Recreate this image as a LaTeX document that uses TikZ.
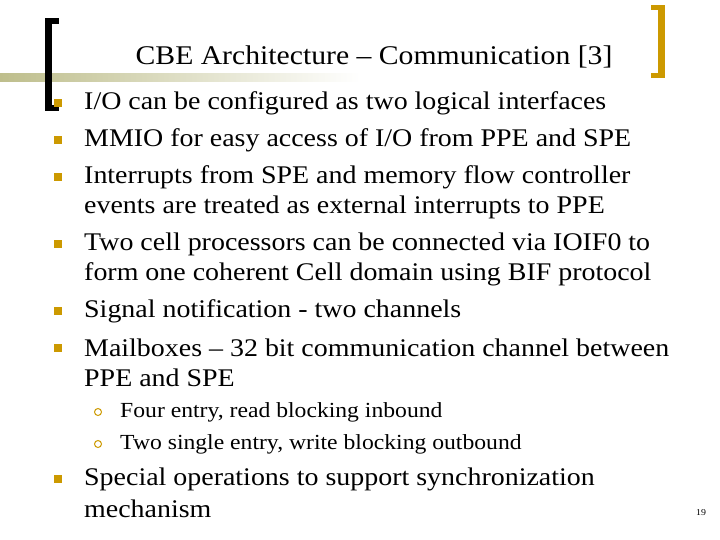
\documentclass[tikz,border=0pt]{standalone}
\usepackage{fontspec}
\setmainfont[FakeStretch=1.1]{Liberation Serif}
\definecolor{gold}{RGB}{204,153,0}
\definecolor{olive}{RGB}{190,190,140}
\begin{document}
\begin{tikzpicture}[x=1pt,y=-1pt,
  txt/.style={anchor=west,inner sep=0pt,font=\fontsize{25.4}{28}\selectfont},
  sub/.style={anchor=west,inner sep=0pt,font=\fontsize{21.5}{24}\selectfont},
  bul/.style={fill=gold,minimum size=8pt,inner sep=0pt},
  hol/.style={draw=gold,circle,line width=1pt,minimum size=7pt,inner sep=0pt}]
\useasboundingbox (0,0) rectangle (720,540);
\shade[left color=olive,right color=white] (0,74) rectangle (360,82);
\fill (45,18) rectangle (52,111);
\fill (45,18) rectangle (59,24);
\fill (45,105) rectangle (59,111);
\fill[gold] (658,5) rectangle (665,78);
\fill[gold] (651,5) rectangle (665,10);
\fill[gold] (651,73) rectangle (665,78);
\node[anchor=center,font=\fontsize{27}{30}\selectfont,inner sep=0pt] (title) at (374,57) {CBE Architecture – Communication [3]};
\foreach \y/\n in {103/b1,140/b2,177/b3,244/b4,311/b5,348/b6,479/b7}
  \node[bul] (\n) at (58,\y) {};
\node[txt] (t1) at (84,103) {I/O can be configured as two logical interfaces};
\node[txt] (t2) at (84,140) {MMIO for easy access of I/O from PPE and SPE};
\node[txt] (t3) at (84,177) {Interrupts from SPE and memory flow controller};
\node[txt] (t3b) at (84,207) {events are treated as external interrupts to PPE};
\node[txt] (t4) at (84,244) {Two cell processors can be connected via IOIF0 to};
\node[txt] (t4b) at (84,274) {form one coherent Cell domain using BIF protocol};
\node[txt] (t5) at (84,311) {Signal notification - two channels};
\node[txt] (t6) at (84,348) {Mailboxes – 32 bit communication channel between};
\node[txt] (t6b) at (84,378) {PPE and SPE};
\node[hol] (c1) at (98,412) {};
\node[hol] (c2) at (98,444) {};
\node[sub] (s1) at (120,412) {Four entry, read blocking inbound};
\node[sub] (s2) at (120,444) {Two single entry, write blocking outbound};
\node[txt] (t7) at (84,479) {Special operations to support synchronization};
\node[txt] (t7b) at (84,509) {mechanism};
\node[font=\fontsize{9}{10}\selectfont,inner sep=0pt] (pg) at (701,513) {19};
\end{tikzpicture}
\end{document}
